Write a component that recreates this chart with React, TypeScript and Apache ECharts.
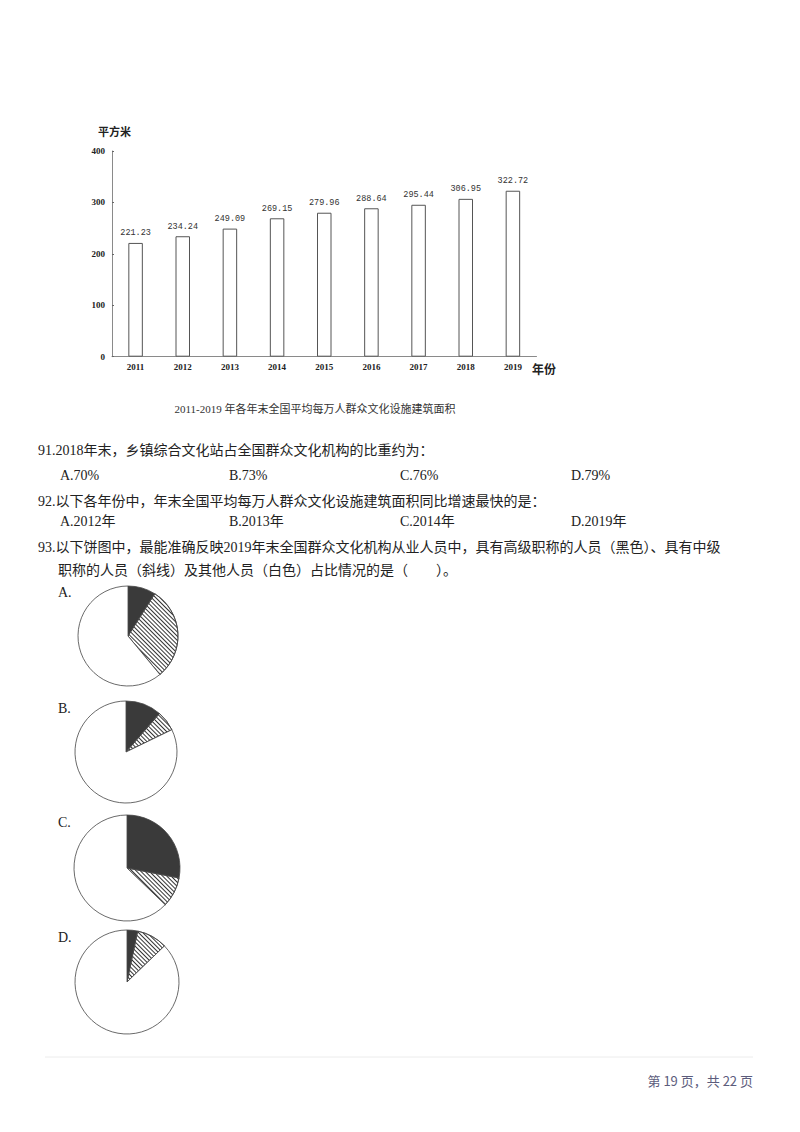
import { useEffect, useRef } from 'react'
import * as echarts from 'echarts'

// 2011-2019 每万人群众文化设施建筑面积（平方米）
const YEARS = ['2011', '2012', '2013', '2014', '2015', '2016', '2017', '2018', '2019']
const AREAS = [221.23, 234.24, 249.09, 269.15, 279.96, 288.64, 295.44, 306.95, 322.72]
const Y_TICKS = [0, 100, 200, 300, 400]

// 饼图：高级（黑）、中级（斜线）、其他（白）
const PIE_LABELS = ['A.', 'B.', 'C.', 'D.']
const PIE_SENIOR = [9, 11.4, 28, 3.3]
const PIE_MIDDLE = [30, 6.4, 9.2, 9.5]
const PIE_OTHER = [61, 82.2, 62.8, 87.2]

const SERIF = '"Liberation Serif", "Noto Sans CJK SC", serif'
const CJK = '"Noto Sans CJK SC", sans-serif'

const PIE_POS = [
  { x: 128, y: 636, r: 50, ly: 592 },
  { x: 126, y: 752, r: 51, ly: 708 },
  { x: 127, y: 868, r: 53, ly: 822 },
  { x: 127, y: 982, r: 52, ly: 937 },
]

const hatch = {
  symbol: 'rect',
  symbolSize: 1,
  color: '#333',
  dashArrayX: [1, 0],
  dashArrayY: [1, 2],
  rotation: Math.PI / 4,
}

function txt(x: number, y: number, text: string, extra: any = {}) {
  return {
    type: 'text',
    x,
    y,
    silent: true,
    style: {
      text,
      fill: '#222',
      font: `14px ${SERIF}`,
      textVerticalAlign: 'middle',
      ...extra,
    },
  }
}

export default function App() {
  const ref = useRef<HTMLDivElement>(null)

  useEffect(() => {
    document.body.style.margin = '0'
    if (!ref.current) return
    const chart = echarts.init(ref.current, undefined, { renderer: 'svg' })

    const pieSeries = PIE_POS.map((p, i) => ({
      type: 'pie',
      center: [p.x, p.y],
      radius: p.r,
      startAngle: 90,
      clockwise: true,
      silent: true,
      label: { show: false },
      labelLine: { show: false },
      itemStyle: { borderColor: '#444', borderWidth: 0.8 },
      data: [
        { value: PIE_SENIOR[i], name: '高级', itemStyle: { color: '#3a3a3a' } },
        { value: PIE_MIDDLE[i], name: '中级', itemStyle: { color: '#fff', decal: hatch } },
        { value: PIE_OTHER[i], name: '其他', itemStyle: { color: '#fff' } },
      ],
    }))

    const optX = [60, 229, 400, 571]

    chart.setOption({
      animation: false,
      backgroundColor: '#fff',
      grid: { left: 112, top: 151, width: 424.5, height: 205.7 },
      xAxis: {
        type: 'category',
        data: YEARS,
        axisLine: { lineStyle: { color: '#8a8a8a', width: 1 } },
        axisTick: { show: false },
        axisLabel: { color: '#222', fontSize: 9, fontWeight: 'bold', fontFamily: SERIF, margin: 6 },
      },
      yAxis: {
        type: 'value',
        min: Y_TICKS[0],
        max: Y_TICKS[Y_TICKS.length - 1],
        interval: 100,
        axisLine: { show: true, lineStyle: { color: '#8a8a8a', width: 1 } },
        axisTick: { show: true, inside: true, length: 2, lineStyle: { color: '#666' } },
        splitLine: { show: false },
        axisLabel: { color: '#222', fontSize: 9, fontWeight: 'bold', fontFamily: SERIF, margin: 7 },
      },
      series: [
        {
          type: 'bar',
          data: AREAS,
          barWidth: 14.5,
          silent: true,
          itemStyle: { color: '#fff', borderColor: '#555', borderWidth: 1 },
          label: {
            show: true,
            position: 'top',
            distance: 5,
            color: '#333',
            fontSize: 8.5,
            fontFamily: '"Liberation Mono", monospace',
            formatter: (p: any) => p.value.toFixed(2),
          },
        },
        ...pieSeries,
      ],
      graphic: [
        txt(98, 131, '平方米', { font: `bold 11px ${CJK}` }),
        txt(532, 368, '年份', { font: `bold 12px ${CJK}` }),
        txt(315, 409, '2011-2019 年各年末全国平均每万人群众文化设施建筑面积', {
          font: `11px ${SERIF}`,
          textAlign: 'center',
          fill: '#333',
        }),
        txt(38, 450, '91.2018年末，乡镇综合文化站占全国群众文化机构的比重约为：'),
        ...['A.70%', 'B.73%', 'C.76%', 'D.79%'].map((t, i) => txt(optX[i], 475, t)),
        txt(38, 501.5, '92.以下各年份中，年末全国平均每万人群众文化设施建筑面积同比增速最快的是：'),
        ...['A.2012年', 'B.2013年', 'C.2014年', 'D.2019年'].map((t, i) => txt(optX[i], 521, t)),
        txt(38, 547, '93.以下饼图中，最能准确反映2019年末全国群众文化机构从业人员中，具有高级职称的人员（黑色）、具有中级'),
        txt(58, 570, '职称的人员（斜线）及其他人员（白色）占比情况的是（　　）。'),
        ...PIE_LABELS.map((t, i) => txt(58, PIE_POS[i].ly, t)),
        {
          type: 'line',
          silent: true,
          shape: { x1: 45, y1: 1057, x2: 753, y2: 1057 },
          style: { stroke: '#ececec', lineWidth: 1 },
        },
        txt(753, 1080, '第 19 页，共 22 页', {
          font: `13px ${CJK}`,
          textAlign: 'right',
          fill: '#5c5c7c',
        }),
      ],
    })

    return () => chart.dispose()
  }, [])

  return <div ref={ref} style={{ width: 800, height: 1132 }} />
}
